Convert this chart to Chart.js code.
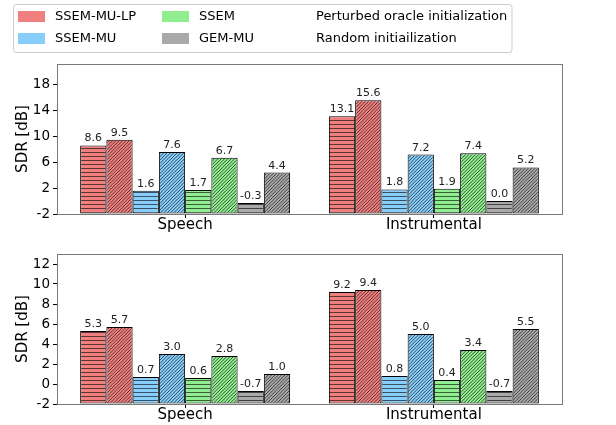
<!DOCTYPE html>
<html>
<head>
<meta charset="utf-8">
<script src="https://cdn.jsdelivr.net/npm/chart.js@4.4.1/dist/chart.umd.min.js"></script>
<style>
  html, body { margin: 0; padding: 0; background: #fff; }
  #wrap { position: relative; width: 616px; height: 425px; }
  canvas { position: absolute; left: 0; }
</style>
</head>
<body>
<div id="wrap">
  <canvas id="topChart" width="616" height="240" style="top:0px"></canvas>
  <canvas id="bottomChart" width="616" height="185" style="top:240px"></canvas>
</div>
<script>
// --- data ---
const categories = ['Speech', 'Instrumental'];
const methods = ['SSEM-MU-LP', 'SSEM-MU', 'SSEM', 'GEM-MU'];
const inits = ['Perturbed oracle initialization', 'Random initiailization'];

// top panel
const topLpOracle   = [8.6, 13.1];
const topLpRandom   = [9.5, 15.6];
const topMuOracle   = [1.6, 1.8];
const topMuRandom   = [7.6, 7.2];
const topSsemOracle = [1.7, 1.9];
const topSsemRandom = [6.7, 7.4];
const topGemOracle  = [-0.3, 0.0];
const topGemRandom  = [4.4, 5.2];
const topTicks = [-2, 2, 6, 10, 14, 18];

// bottom panel
const botLpOracle   = [5.3, 9.2];
const botLpRandom   = [5.7, 9.4];
const botMuOracle   = [0.7, 0.8];
const botMuRandom   = [3.0, 5.0];
const botSsemOracle = [0.6, 0.4];
const botSsemRandom = [2.8, 3.4];
const botGemOracle  = [-0.7, -0.7];
const botGemRandom  = [1.0, 5.5];
const bottomTicks = [-2, 0, 2, 4, 6, 8, 10, 12];

// --- styles ---
const methodColors = ['#f08080', '#87cefa', '#90ee90', '#a9a9a9'];
const FONT = '"DejaVu Sans", sans-serif';
const SPINE = '#7a7a7a';

// hatch patterns: 'h' = horizontal lines, 'd' = diagonal ///
function hatch(color, kind) {
  const c = document.createElement('canvas');
  const s = kind === 'h' ? 4 : 10;
  c.width = s; c.height = s;
  const g = c.getContext('2d');
  g.fillStyle = color;
  g.fillRect(0, 0, s, s);
  g.lineWidth = 1;
  g.beginPath();
  if (kind === 'h') {
    g.strokeStyle = 'rgba(0,0,0,0.6)';
    g.moveTo(0, 0.5); g.lineTo(s, 0.5);
  } else {
    g.strokeStyle = 'rgba(0,0,0,0.62)';
    for (let k = -3; k <= 9; k++) {
      const c0 = k * s / 3;
      g.moveTo(c0 + 2, -2);
      g.lineTo(c0 - s - 2, s + 2);
    }
  }
  g.stroke();
  return g.createPattern(c, 'repeat');
}

function buildDatasets(series) {
  return series.map((vals, i) => ({
    label: methods[i >> 1] + ' - ' + inits[i % 2],
    data: vals.map((v, j) => ({ x: j, y: v })),
    base: -2,
    backgroundColor: hatch(methodColors[i >> 1], i % 2 ? 'd' : 'h'),
    borderColor: '#000',
    borderWidth: 1,
    borderSkipped: false,
    categoryPercentage: 0.844,
    barPercentage: 1
  }));
}

// value labels above each bar
const valueLabels = {
  id: 'valueLabels',
  afterDatasetsDraw(chart) {
    const ctx = chart.ctx;
    ctx.save();
    ctx.font = '11px ' + FONT;
    ctx.fillStyle = '#222';
    ctx.textAlign = 'center';
    ctx.textBaseline = 'alphabetic';
    chart.data.datasets.forEach((ds, i) => {
      chart.getDatasetMeta(i).data.forEach((bar, j) => {
        ctx.fillText(ds.data[j].y.toFixed(1), bar.x, bar.y - 4);
      });
    });
    ctx.restore();
  }
};

// full box around the axes
const frame = {
  id: 'frame',
  afterDraw(chart) {
    const a = chart.chartArea, ctx = chart.ctx;
    ctx.save();
    ctx.strokeStyle = SPINE;
    ctx.lineWidth = 1;
    ctx.strokeRect(Math.round(a.left) + 0.5, Math.round(a.top) + 0.5,
                   Math.round(a.right - a.left), Math.round(a.bottom - a.top));
    ctx.restore();
  }
};

// legend in three columns above the top chart
const boxLegend = {
  id: 'boxLegend',
  afterDraw(chart) {
    const ctx = chart.ctx;
    ctx.save();
    ctx.beginPath();
    ctx.roundRect(13.5, 4.5, 498.5, 48, 3);
    ctx.fillStyle = '#fff';
    ctx.fill();
    ctx.strokeStyle = '#cccccc';
    ctx.lineWidth = 1;
    ctx.stroke();
    ctx.font = '13px ' + FONT;
    ctx.textBaseline = 'middle';
    ctx.textAlign = 'left';
    const rows = [16.5, 38.5];
    const cols = [{ px: 18, tx: 55 }, { px: 162, tx: 199 }];
    methods.forEach((m, i) => {
      const col = cols[Math.floor(i / 2)], y = rows[i % 2];
      ctx.fillStyle = methodColors[i];
      ctx.fillRect(col.px, y - 5.5, 27, 11);
      ctx.fillStyle = '#000';
      ctx.fillText(m, col.tx, y + 0.5);
    });
    inits.forEach((t, i) => {
      ctx.fillStyle = '#000';
      ctx.fillText(t, 316, rows[i] + 0.5);
    });
    ctx.restore();
  }
};

function makeChart(id, series, yMax, yTicks, padTop, xAxisH, extra) {
  return new Chart(document.getElementById(id), {
    type: 'bar',
    data: { datasets: buildDatasets(series) },
    options: {
      responsive: false,
      animation: false,
      events: [],
      layout: { padding: { top: padTop, right: 54, bottom: 0, left: 0 } },
      plugins: { legend: { display: false }, tooltip: { enabled: false } },
      scales: {
        x: {
          type: 'linear',
          min: -0.515,
          max: 1.515,
          offset: false,
          grid: { display: true, drawOnChartArea: false, offset: false, tickLength: 4, color: '#000' },
          border: { display: false },
          afterBuildTicks: s => { s.ticks = categories.map((c, j) => ({ value: j })); },
          ticks: {
            color: '#000', font: { family: FONT, size: 15 }, padding: -2, maxRotation: 0,
            callback: v => categories[v]
          },
          afterFit: s => { s.height = xAxisH; }
        },
        y: {
          min: -2,
          max: yMax,
          grid: { display: true, drawOnChartArea: false, tickLength: 4, color: '#000' },
          border: { display: false },
          ticks: { color: '#000', font: { family: FONT, size: 13.5 }, padding: 3 },
          afterBuildTicks: s => { s.ticks = yTicks.map(v => ({ value: v })); },
          title: { display: true, text: 'SDR [dB]', color: '#000', font: { family: FONT, size: 15 }, padding: { top: 14, bottom: 0 } },
          afterFit: s => { s.width = 57; }
        }
      }
    },
    plugins: [frame, valueLabels].concat(extra || [])
  });
}

makeChart('topChart',
  [topLpOracle, topLpRandom, topMuOracle, topMuRandom, topSsemOracle, topSsemRandom, topGemOracle, topGemRandom],
  21.2, topTicks, 64, 26, [boxLegend]);

makeChart('bottomChart',
  [botLpOracle, botLpRandom, botMuOracle, botMuRandom, botSsemOracle, botSsemRandom, botGemOracle, botGemRandom],
  13, bottomTicks, 14, 21);
</script>
</body>
</html>
